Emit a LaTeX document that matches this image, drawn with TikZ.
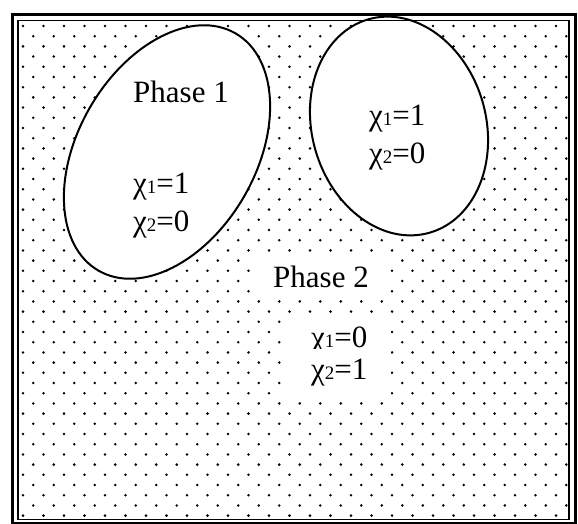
\documentclass[tikz,border=0pt]{standalone}
\usepackage{fontspec}
\setmainfont{Liberation Serif}
\usepackage{tikz}

\newcommand{\chisub}[1]{χ{\fontsize{19}{19}\selectfont #1}}

\begin{document}
\begin{tikzpicture}[x=1pt,y=-1pt,
  every node/.style={font=\fontsize{31}{36}\selectfont,inner sep=0pt},
  lbl/.style={anchor=base west},
  blank/.style={lbl,fill=white,inner xsep=18pt,inner ysep=10pt},
  bubble/.style={draw,line width=2pt,fill=white},
  grain/.style={fill=black}]
\useasboundingbox (0,0) rectangle (578,524);
% dotted background
\foreach \r in {0,...,48}
  \foreach \c in {0,...,26}
    \fill[grain] ({23+20.5*\c+10.25*mod(\r,2)},{26+10.2*\r}) circle (1.4pt);
% phase 2 labels, on a blank patch
\node[blank] (phasetwo) at (255,287) {Phase 2};
\node[blank,inner xsep=24pt] (twoA) at (287,347) {\chisub{1}=0};
\node[blank,inner xsep=24pt] (twoB) at (287,379) {\chisub{2}=1};
% the two phase-1 regions
\draw[bubble,rotate around={60:(167,152)}] (167,152) ellipse [x radius=137pt,y radius=89pt];
\draw[bubble,rotate around={16:(399,126)}] (399,126) ellipse [x radius=87pt,y radius=111pt];
% frame
\draw[line width=3pt] (12,15) rectangle (575,523.5);
\draw[line width=1.3pt] (18,20.5) rectangle (569,519.5);
% labels inside
\node[lbl] (phaseone) at (133,103) {Phase 1};
\node[lbl] (oneA) at (133,193) {\chisub{1}=1};
\node[lbl] (oneB) at (133,231) {\chisub{2}=0};
\node[lbl] (rightA) at (369,125) {\chisub{1}=1};
\node[lbl] (rightB) at (369,164) {\chisub{2}=0};
\end{tikzpicture}
\end{document}
